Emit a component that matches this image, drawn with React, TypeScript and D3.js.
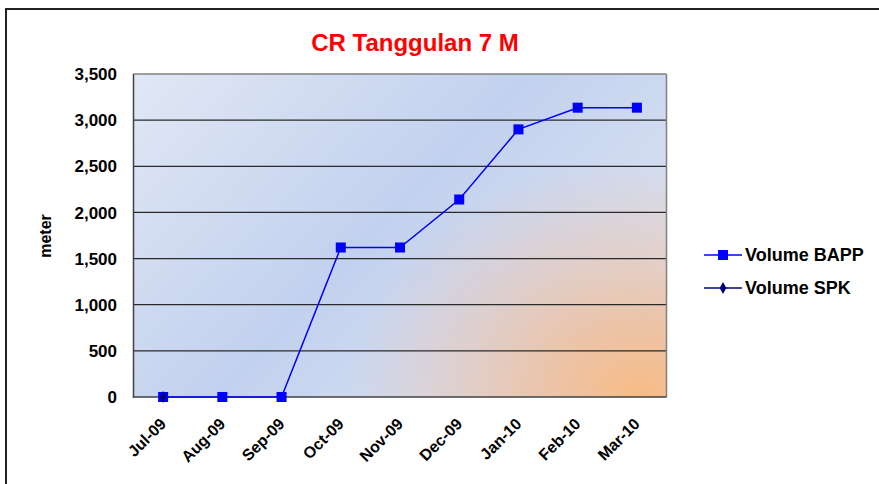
import React from 'react';
import * as d3 from 'd3';

const months = ['Jul-09', 'Aug-09', 'Sep-09', 'Oct-09', 'Nov-09', 'Dec-09', 'Jan-10', 'Feb-10', 'Mar-10'];
const volumeBapp = [0, 0, 0, 1620, 1620, 2140, 2900, 3135, 3135];
const volumeSpk: (number | null)[] = [0, null, null, null, null, null, null, null, null];
const yTicks = [0, 500, 1000, 1500, 2000, 2500, 3000, 3500];

const W = 879;
const H = 484;
const plot = { left: 133.5, right: 666.5, top: 74, bottom: 397 };
const FONT = '"Liberation Sans", Arial, sans-serif';

export default function App() {
    const x = d3.scaleBand<string>().domain(months).range([plot.left, plot.right]);
    const y = d3.scaleLinear().domain([0, 3500]).range([plot.bottom, plot.top]);
    const cx = (m: string) => (x(m) as number) + x.bandwidth() / 2;

    const line = d3.line<[string, number]>()
        .x((d) => cx(d[0]))
        .y((d) => y(d[1]));

    const bapp: [string, number][] = months.map((m, i) => [m, volumeBapp[i]]);
    const spk: [string, number][] = months
        .map((m, i) => [m, volumeSpk[i]] as [string, number | null])
        .filter((d) => d[1] != null) as [string, number][];

    const fmt = d3.format(',');
    const diamond = d3.symbol().type(d3.symbolDiamond).size(40)() as string;

    return (
        <svg width={W} height={H} style={{ position: 'absolute', left: 0, top: 0, background: '#fff' }}>
            <defs>
                <linearGradient id="bg" x1="0" y1="0" x2="1" y2="0.6">
                    <stop offset="0" stopColor="#e1e7f4" />
                    <stop offset="0.55" stopColor="#c2d1ee" />
                    <stop offset="1" stopColor="#dbe3f3" />
                </linearGradient>
                <radialGradient id="glow" cx="0.95" cy="1" r="0.55" fx="0.95" fy="1"
                    gradientTransform="translate(0.95,1) scale(1,1.35) translate(-0.95,-1)">
                    <stop offset="0" stopColor="#f8bb84" stopOpacity="1" />
                    <stop offset="0.35" stopColor="#edc0a0" stopOpacity="0.85" />
                    <stop offset="1" stopColor="#e6c3b2" stopOpacity="0" />
                </radialGradient>
            </defs>

            {/* outer chart frame */}
            <rect x={6} y={9} width={W + 20} height={H + 20} fill="none" stroke="#222" strokeWidth={2} />

            <text x={415} y={51} textAnchor="middle" fill="#ff0000" fontFamily={FONT}
                fontWeight="bold" fontSize={24}>CR Tanggulan 7 M</text>

            {/* plot area */}
            <rect x={plot.left} y={plot.top} width={plot.right - plot.left} height={plot.bottom - plot.top} fill="url(#bg)" />
            <rect x={plot.left} y={plot.top} width={plot.right - plot.left} height={plot.bottom - plot.top} fill="url(#glow)" />

            {yTicks.filter((t) => t > 0 && t < 3500).map((t) => (
                <line key={t} x1={plot.left} x2={plot.right} y1={y(t)} y2={y(t)} stroke="#2a2a2a" strokeWidth={1.2} />
            ))}
            <line x1={plot.left} x2={plot.right} y1={plot.top} y2={plot.top} stroke="#808080" strokeWidth={1.5} />
            <line x1={plot.right} x2={plot.right} y1={plot.top} y2={plot.bottom} stroke="#808080" strokeWidth={1.5} />
            <line x1={plot.left} x2={plot.left} y1={plot.top} y2={plot.bottom + 1} stroke="#404040" strokeWidth={1.5} />
            <line x1={plot.left} x2={plot.right} y1={plot.bottom} y2={plot.bottom} stroke="#404040" strokeWidth={1.5} />

            {yTicks.map((t) => (
                <text key={t} x={117} y={y(t)} dy="0.36em" textAnchor="end" fontFamily={FONT}
                    fontWeight="bold" fontSize={17}>{fmt(t)}</text>
            ))}

            {months.map((m) => (
                <text key={m} transform={`translate(${cx(m) + 4},${plot.bottom + 28}) rotate(-45)`}
                    textAnchor="end" fontFamily={FONT} fontWeight="bold" fontSize={16}>{m}</text>
            ))}

            <text transform={`translate(51,236) rotate(-90)`} textAnchor="middle" fontFamily={FONT}
                fontWeight="bold" fontSize={16}>meter</text>

            {/* series */}
            <path d={line(bapp) as string} fill="none" stroke="#0000ff" strokeWidth={1.5} />
            {bapp.map((d) => (
                <rect key={d[0]} x={cx(d[0]) - 5} y={y(d[1]) - 5} width={10} height={10} fill="#0000ff" />
            ))}
            {spk.length > 1 && <path d={line(spk) as string} fill="none" stroke="#000080" strokeWidth={1.5} />}
            {spk.map((d) => (
                <path key={d[0]} d={diamond} transform={`translate(${cx(d[0])},${y(d[1])})`} fill="#000080" />
            ))}

            {/* legend */}
            <g fontFamily={FONT} fontWeight="bold" fontSize={18}>
                <line x1={704} x2={742} y1={255} y2={255} stroke="#0000ff" strokeWidth={1.5} />
                <rect x={718} y={250} width={10} height={10} fill="#0000ff" />
                <text x={745} y={255} dy="0.36em">Volume BAPP</text>
                <line x1={704} x2={742} y1={288} y2={288} stroke="#000080" strokeWidth={1.5} />
                <path d={diamond} transform="translate(723,288)" fill="#000080" />
                <text x={745} y={288} dy="0.36em">Volume SPK</text>
            </g>
        </svg>
    );
}
